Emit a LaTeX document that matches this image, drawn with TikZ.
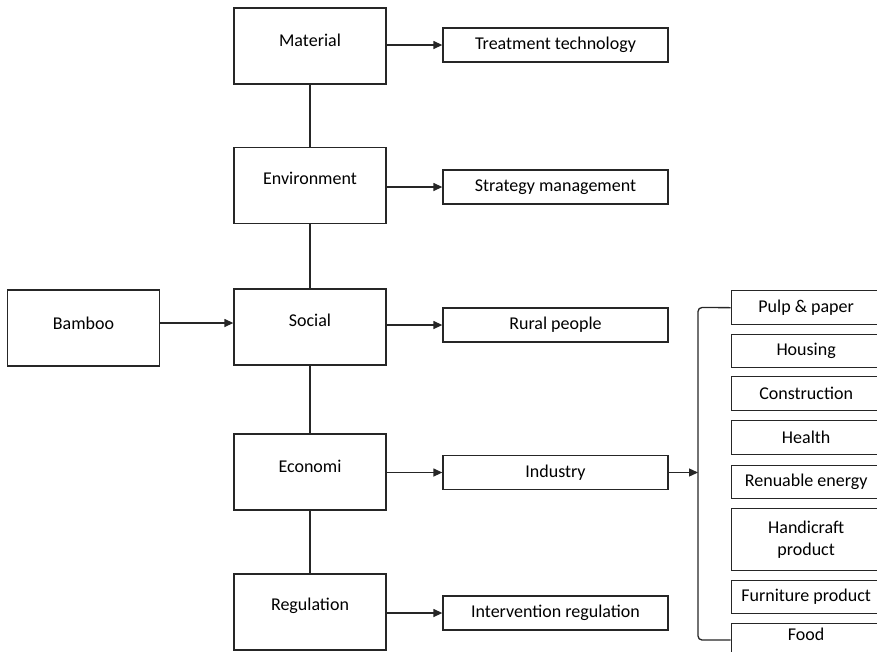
\documentclass[tikz,border=0pt]{standalone}
\usepackage{fontspec}
\setmainfont{Carlito}
\usetikzlibrary{arrows.meta}
\begin{document}
\begin{tikzpicture}[x=1pt,y=-1pt,
  box/.style={draw=black!85, line width=1.3pt, inner sep=0pt, font=\fontsize{18}{22}\selectfont, align=center},
  big/.style={box, minimum width=152pt, minimum height=76pt},
  lbl/.style={inner sep=0pt, font=\fontsize{18}{22}\selectfont},
  small/.style={box, minimum width=225pt, minimum height=34pt},
  item/.style={box, minimum width=150pt, anchor=north west},
  arr/.style={draw=black!85, -{Triangle[length=9pt,width=8pt]}, line width=1.3pt},
  conn/.style={draw=black!85, line width=1.3pt}]
\useasboundingbox (0,0) rectangle (877,651);
\begin{scope}
\clip (0,0) rectangle (877,651);
% left column
\node[big] (mat) at (310,46) {};
\node[big] (env) at (310,185.5) {};
\node[big] (soc) at (310,327) {};
\node[big] (eco) at (310,472) {};
\node[big] (reg) at (310,612) {};
\node[big] (bam) at (83.5,328) {};
\node[lbl] (matt) at ([yshift=6pt]mat.center) {Material};
\node[lbl] (envt) at ([yshift=7pt]env.center) {Environment};
\node[lbl] (soct) at ([yshift=7pt]soc.center) {Social};
\node[lbl] (ecot) at ([yshift=6pt]eco.center) {Economi};
\node[lbl] (regt) at ([yshift=6pt]reg.center) {Regulation};
\node[lbl] (bamt) at ([yshift=5pt]bam.center) {Bamboo};
% middle column
\node[small] (tre) at (555.5,45) {Treatment technology};
\node[small] (str) at (555.5,187) {Strategy management};
\node[small] (rur) at (555.5,325) {Rural people};
\node[small] (ind) at (555.5,472.5) {Industry};
\node[small] (int) at (555.5,613) {Intervention regulation};
% right column
\node[item, minimum height=34pt] (pul) at (730.5,290) {Pulp \& paper};
\node[item, minimum height=33pt] (hou) at (730.5,334) {Housing};
\node[item, minimum height=34pt] (con) at (730.5,376) {Construction};
\node[item, minimum height=34pt] (hea) at (730.5,420) {Health};
\node[item, minimum height=33pt] (ren) at (730.5,465) {Renuable energy};
\node[item, minimum height=62pt] (han) at (730.5,508) {Handicraft\\product};
\node[item, minimum height=33pt] (fur) at (730.5,580) {Furniture product};
\node[item, minimum height=34pt, text depth=12pt] (foo) at (730.5,623) {Food};
% vertical connectors
\draw[conn] (mat) -- (env);
\draw[conn] (env) -- (soc);
\draw[conn] (soc) -- (eco);
\draw[conn] (eco) -- (reg);
% arrows
\draw[arr] (bam.east |- 0,323) -- (soc.west |- 0,323);
\draw[arr] (mat.east |- tre) -- (tre.west);
\draw[arr] (env.east |- str) -- (str.west);
\draw[arr] (soc.east |- rur) -- (rur.west);
\draw[arr] (eco.east |- ind) -- (ind.west);
\draw[arr] (reg.east |- int) -- (int.west);
\coordinate (brtop) at (698,307.5);
\coordinate (brbot) at (698,640);
\draw[arr] (ind.east) -- (brtop |- ind.east);
\draw[conn, rounded corners=4pt] (pul.west) -- (brtop) -- (brbot) -- (foo.west |- brbot);
\end{scope}
\end{tikzpicture}
\end{document}
